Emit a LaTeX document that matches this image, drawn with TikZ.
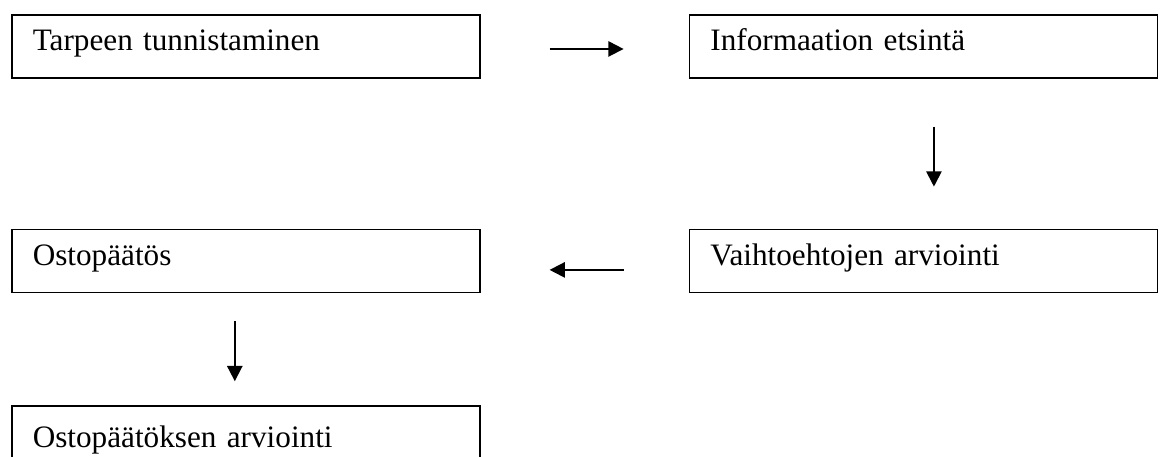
\documentclass[tikz,border=0pt]{standalone}
\usepackage{fontspec}
\setmainfont{Liberation Serif}
\usetikzlibrary{arrows.meta,positioning}
\tikzset{
  vaihe/.style={draw=black,line width=1.2pt,align=left,text width=319.5pt,inner xsep=15.75pt,inner ysep=0pt,minimum height=47.25pt,text height=0.84em,text depth=0.22em,font=\fontsize{23.4}{28}\selectfont},
  nuoli/.style={-{Triangle[length=11.5pt,width=11.5pt]},line width=1.4pt,draw=black}
}
\begin{document}
\begin{tikzpicture}[x=0.75pt,y=0.75pt]
    \useasboundingbox (0,0) rectangle (1161,-457);
    \clip (0,0) rectangle (1161,-457);
    \node[vaihe,anchor=north west] (tarve) at (11,-14) {Tarpeen tunnistaminen};
    \node[vaihe,right=156pt of tarve] (info) {Informaation etsintä};
    \node[vaihe,below=112.5pt of info] (vaiht) {Vaihtoehtojen arviointi};
    \node[vaihe,left=156pt of vaiht] (osto) {Ostopäätös};
    \node[vaihe,below=84pt of osto,minimum height=56.25pt] (arvio) {Ostopäätöksen arviointi};
    \draw[nuoli,shorten <=51.75pt,shorten >=48.75pt] ([yshift=-2pt]tarve.east) -- ([yshift=-2pt]info.west);
    \draw[nuoli,shorten <=36pt,shorten >=31.5pt] ([xshift=7.9pt]info.south) -- ([xshift=7.9pt]vaiht.north);
    \draw[nuoli,shorten <=48.75pt,shorten >=51.75pt] ([yshift=-6.75pt]vaiht.west) -- ([yshift=-6.75pt]osto.east);
    \draw[nuoli,shorten <=21pt,shorten >=18pt] ([xshift=-8.25pt]osto.south) -- ([xshift=-8.25pt]arvio.north);
  \end{tikzpicture}
\end{document}
